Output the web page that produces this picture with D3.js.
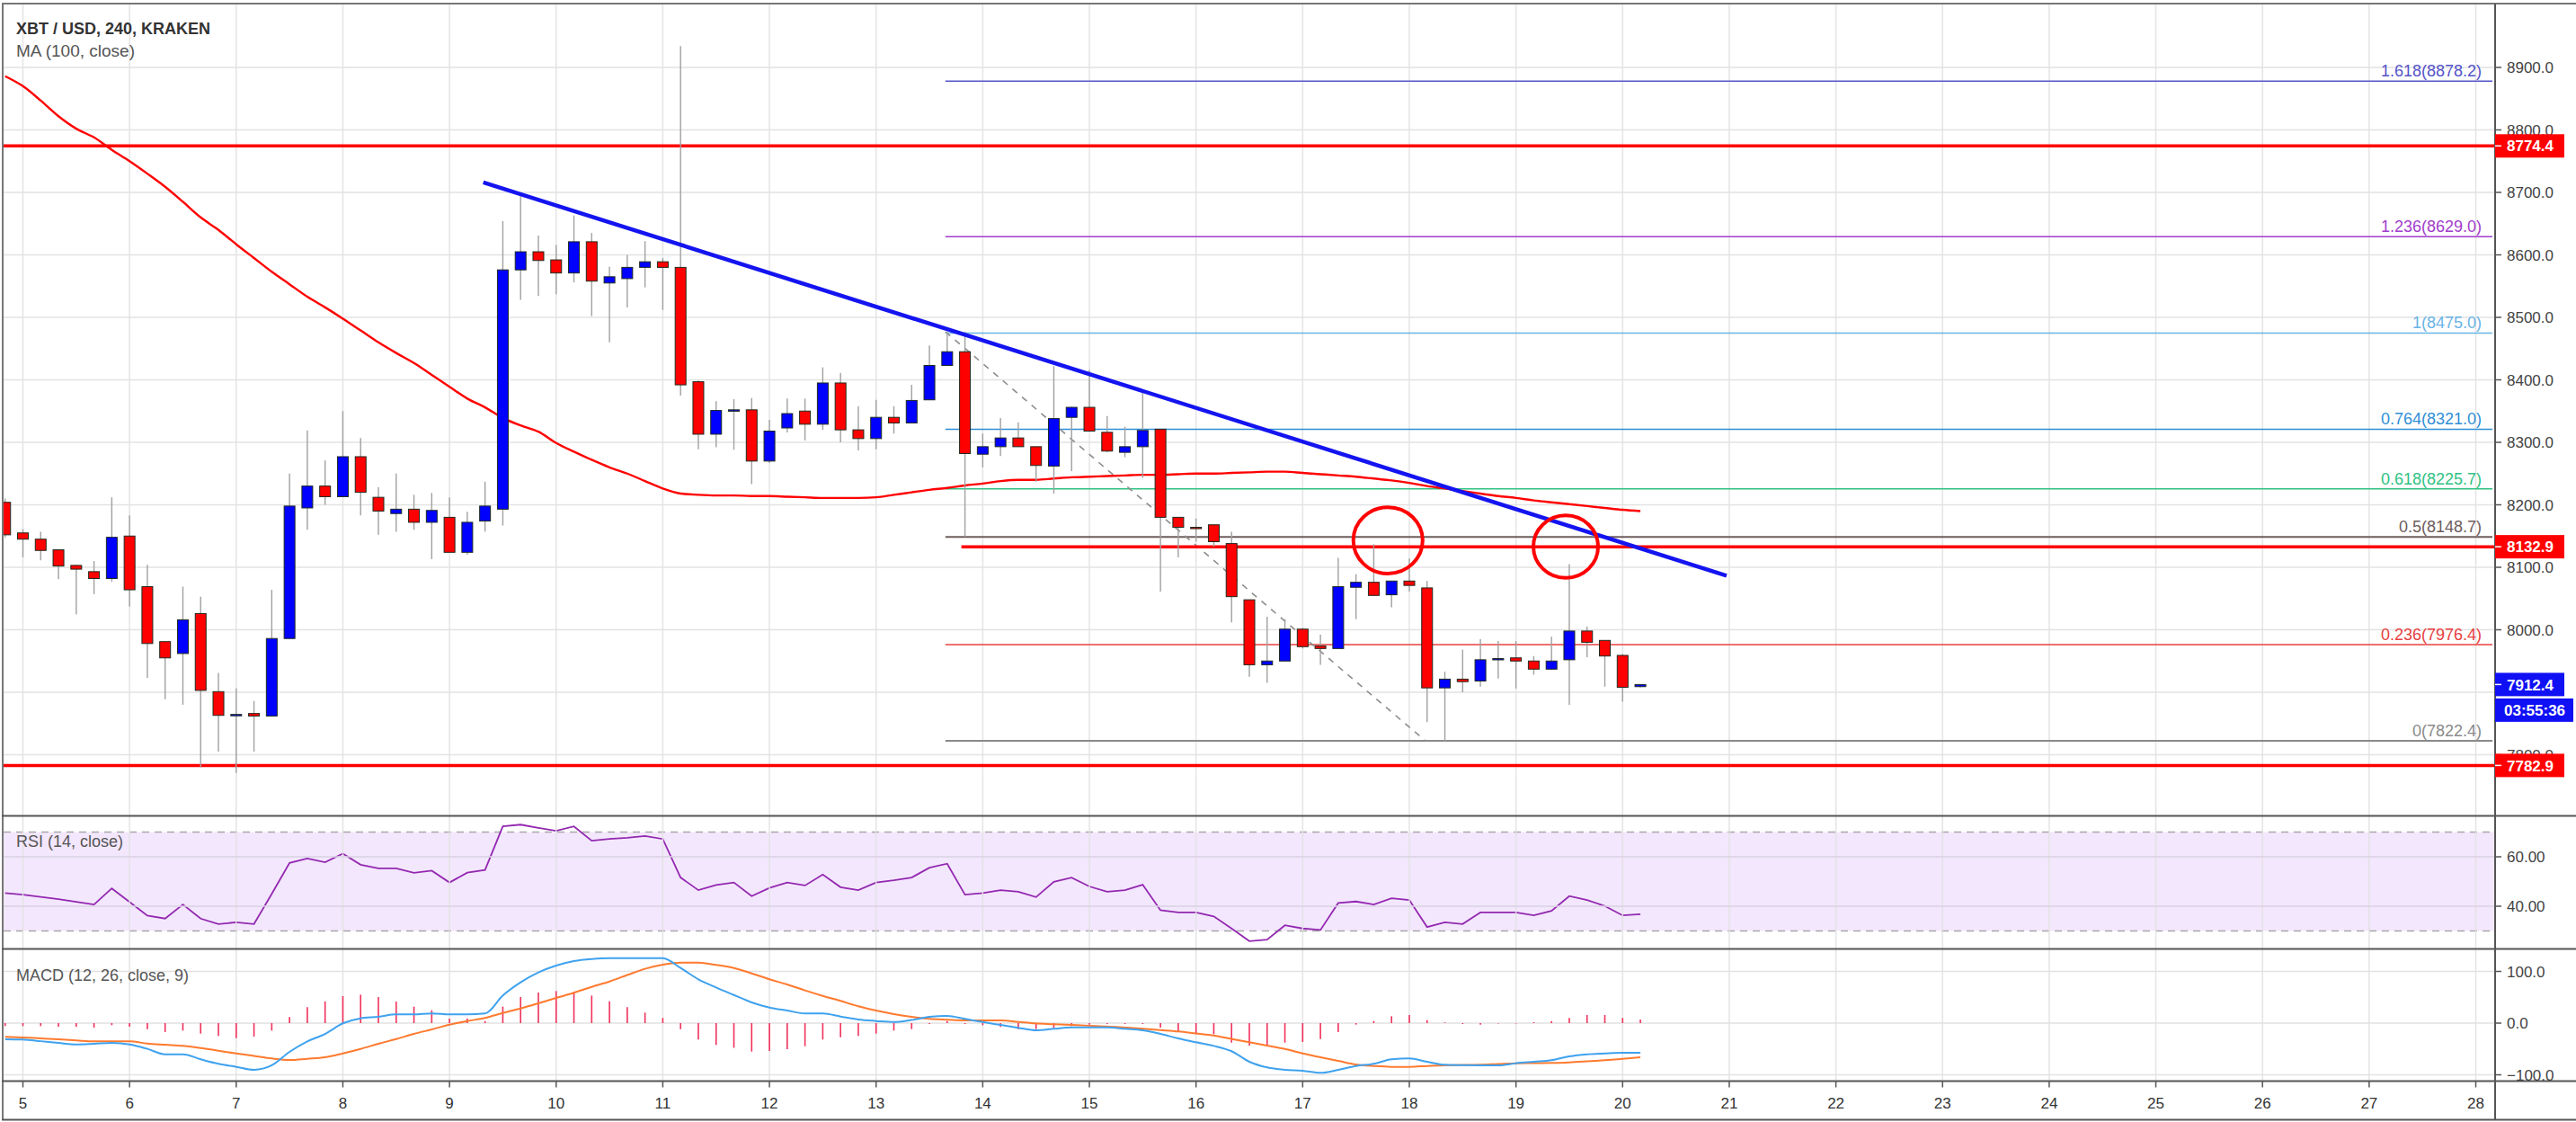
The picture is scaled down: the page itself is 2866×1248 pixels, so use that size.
<!DOCTYPE html>
<html><head><meta charset="utf-8">
<script src="https://cdn.jsdelivr.net/npm/d3@7"></script>
<style>html,body{margin:0;padding:0;background:#fff;}svg{display:block;font-family:"Liberation Sans",Arial,sans-serif;}</style>
</head><body><svg id="c" width="2866" height="1248"></svg>
<script>
// ---------------- DATA ----------------
const title = "XBT / USD, 240, KRAKEN";
const maTitle = "MA (100, close)";
const rsiTitle = "RSI (14, close)";
const macdTitle = "MACD (12, 26, close, 9)";
const barHours = 4;             // 240-minute candles
const firstBar = -1;            // bar index relative to day 5 00:00
const dayLabels = [5,6,7,8,9,10,11,12,13,14,15,16,17,18,19,20,21,22,23,24,25,26,27,28];
const priceTicks = [7800,7900,8000,8100,8200,8300,8400,8500,8600,8700,8800,8900];
const rsiTicks = [40, 60];
const rsiBand = [30, 70];
const macdTicks = [-100, 0, 100];

const opens = [8204,8155,8145,8128,8103,8093,8082,8150,8069,7981,
 7962,8026,7901,7864,7866,7862,7986,8195,8230,8213,
 8277,8212,8186,8193,8172,8180,8124,8174,8193,8576,
 8605,8592,8571,8621,8555,8562,8580,8589,8580,8397,
 8313,8351,8352,8270,8323,8350,8329,8395,8320,8306,
 8340,8331,8368,8423,8445,8281,8293,8307,8293,8262,
 8340,8356,8316,8284,8293,8321,8180,8164,8168,8138,
 8048,7944,7950,8001,7974,7970,8068,8076,8056,8078,
 8067,7907,7921,7918,7952,7955,7950,7937,7952,7998,
 7983,7959,7909];
const highs = [8210,8161,8157,8128,8104,8110,8212,8183,8104,7981,
 8069,8053,7931,7906,7886,8064,8250,8319,8271,8350,
 8307,8228,8250,8216,8219,8212,8189,8237,8654,8694,
 8631,8616,8663,8635,8581,8600,8622,8595,8934,8399,
 8366,8369,8371,8336,8370,8370,8420,8411,8358,8368,
 8358,8392,8455,8477,8477,8314,8339,8332,8293,8422,
 8357,8416,8342,8325,8380,8321,8180,8178,8168,8157,
 8048,8021,8017,8003,7992,8115,8089,8137,8078,8114,
 8078,7933,7968,7985,7982,7982,7958,7989,8105,8005,
 7983,7961,7913];
const lows = [8148,8116,8111,8081,8025,8057,8077,8037,7923,7889,
 7880,7780,7805,7771,7805,7862,7986,8160,8200,8213,
 8183,8152,8157,8160,8113,8124,8120,8157,8167,8528,
 8534,8537,8556,8502,8460,8516,8548,8512,8375,8289,
 8292,8288,8233,8267,8316,8303,8320,8300,8287,8289,
 8314,8331,8368,8422,8149,8260,8278,8293,8237,8218,
 8254,8318,8284,8276,8243,8061,8116,8141,8133,8012,
 7925,7915,7950,7970,7944,7970,8017,8054,8036,8061,
 7852,7822,7900,7909,7922,7906,7928,7936,7880,7956,
 7909,7885,7908];
const closes = [8152,8145,8127,8102,8097,8082,8148,8064,7978,7955,
 8016,7903,7863,7864.5,7862,7986,8198,8230,8213,8277,
 8220,8190,8193,8172,8191,8124,8172,8198,8576,8605,
 8591,8571,8621,8558,8565,8580,8589,8580,8392,8313,
 8351,8352,8270,8318,8346,8329,8395,8320,8306,8340,
 8331,8367,8423,8445,8282,8293,8307,8293,8263,8338,
 8356,8318,8286,8293,8319,8180,8164,8163,8141,8053,
 7944,7950,8001,7973,7970,8069,8076,8055,8078,8071,
 7907,7921,7917,7952,7954,7950,7937,7950,7998,7980,
 7958,7908,7912.4];
const ma100 = [8886,8870,8847,8822,8802,8788,8768,8750,8730,8709,
 8685,8660,8640,8617,8595,8573,8553,8533,8516,8498,
 8479,8460,8443,8427,8408,8389,8370,8356,8339,8327,
 8317,8299,8285,8272,8260,8250,8238,8226,8218,8216,
 8215,8215,8214,8214,8213,8212,8211,8211,8211,8212,
 8216,8220,8224,8227,8231,8234,8238,8240,8240,8242,
 8244,8245,8246,8247,8248,8248,8249,8250,8250,8251,
 8252,8253,8253,8251,8249,8247,8245,8242,8239,8235,
 8230,8226,8222,8218,8214,8211,8207,8204,8201,8198,
 8195,8192,8190];
const rsi = [45.3,44.7,43.8,42.9,41.8,40.7,47.2,41.7,36.2,35.0,
 40.7,35.0,32.8,33.5,32.8,45.0,57.5,59.3,57.8,61.3,
 56.8,55.3,55.3,53.5,54.4,49.6,53.6,54.7,72.3,73.0,
 71.7,70.5,72.3,66.5,67.2,67.7,68.4,67.2,51.6,46.5,
 48.6,49.6,44.1,47.4,49.6,48.4,52.8,47.7,46.5,49.6,
 50.5,51.6,55.6,57.2,44.7,45.3,46.5,45.9,43.7,49.9,
 51.6,48.0,45.9,46.5,48.7,38.4,37.5,37.5,35.9,31.0,
 25.9,26.5,32.3,31.0,30.4,41.3,41.9,40.7,43.2,42.5,
 31.6,33.5,32.8,37.5,37.5,37.5,36.3,38.1,44.1,42.5,
 40.1,36.3,36.8];
const macdLine = [-31.3,-31.9,-35,-38.3,-41.2,-40,-38.3,-41.2,-49.8,-60.3,
 -60.3,-70.1,-78.8,-84.6,-90.4,-81.7,-55.7,-35.4,-20.9,-0.5,
 9.3,12.2,16.8,16.8,18.6,16.8,16.8,18.6,53.3,78.8,
 98,111.3,120,124,125.7,125.7,125.7,125.7,106.6,84.7,
 69,54.4,40,30.1,24.3,18.6,18.6,12.7,7,4.1,
 2,6,12,13.9,8.1,2,-3.5,-9,-13.9,-11,
 -8.1,-8.1,-8.1,-11,-13.9,-20.9,-29.6,-37.1,-44.1,-54.4,
 -74.8,-85.8,-90.4,-92.2,-96.2,-90.4,-83,-78.8,-70.1,-68.4,
 -74.8,-80.5,-81.5,-81.7,-81.7,-77.7,-74.8,-71.8,-64.3,-60.3,
 -58.6,-57.4,-57.4];
const signalLine = [-26.7,-27.8,-29.5,-31.3,-33.4,-35.4,-35.4,-35.4,-39.4,-41.8,
 -44.1,-48.1,-53.4,-58.6,-63.5,-68.4,-71.3,-69,-66.1,-58.6,
 -49.9,-40,-30.8,-20.9,-12.2,-3,4,10,19.7,28.4,
 38.3,48.7,58.6,70.1,80.5,93,105,113,117,117,
 112.5,106.6,96.2,84.7,74.8,63.2,52.7,43,32.5,24.3,
 17.5,12,8.1,6.5,5.2,5.2,5.2,2.3,-0.6,-2,
 -3.5,-5,-6.4,-8.6,-10.9,-13.5,-16.2,-20,-23.8,-30.5,
 -37.1,-43.5,-49.9,-58.6,-66.1,-73,-80,-83,-84.6,-84.6,
 -83,-81.7,-81,-80.5,-79,-77.7,-77.4,-77.1,-76,-74,
 -71.8,-69,-66.1];
const histogram = [-5.8,-5.8,-5.8,-7,-7,-8.7,-4,-7,-11.6,-17.4,
 -14.5,-20.3,-24.9,-29,-26.1,-14.5,11.6,30.7,42,52.2,
 55,50.4,41.7,31.9,24.9,8.7,8.7,4,31.9,50.4,
 59.1,62,60.9,53.3,42.3,30.7,20.3,9.9,-11.6,-31.9,
 -42.3,-47.8,-55,-53.9,-50.4,-44.6,-31.9,-27.2,-24.9,-20.3,
 -14.5,-11.6,-1.7,4.1,-1.7,-4.1,-7.5,-11.6,-11.6,-9.9,
 -5.8,-2.9,-1.7,-1.7,-1.7,-8.7,-15.7,-21.4,-21.4,-37.7,
 -43.5,-44.6,-37.7,-36.5,-30.7,-17.4,-2.9,4.1,13.3,15.7,
 5.8,1.2,-1.7,-2.9,0,0,1.7,4.1,9.9,15.7,
 15.7,9.9,7];

// Fibonacci extension levels
const fibRatios = ["1.618","1.236","1","0.764","0.618","0.5","0.236","0"];
const fibPrices = [8878.2, 8629.0, 8475.0, 8321.0, 8225.7, 8148.7, 7976.4, 7822.4];
const fibColors = ["#5454c8","#a23ccc","#6ab4e6","#2f8fd6","#2fc283","#6e5c5c","#e84040","#8a8a8a"];
const fibStartBar = 51.9;
const fibAnchor = {k0: 51.9, p0: 8477, k1: 78.9, p1: 7822.4};
// horizontal support / resistance levels
const levelPrices = [8774.4, 8132.9, 7782.9];
const levelStartBars = [null, 52.8, null];
// descending trend line
const trendLine = {k0: 25.9, p0: 8716, k1: 95.85, p1: 8086.5};
// annotated circles (center bar, center price, radius in bars, radius in price)
const circleBars = [76.8, 86.8];
const circlePrices = [8143, 8133];
const circleRadBars = [1.95, 1.82];
const circleRadPrices = [53, 50];
const lastPrice = 7912.4;
const countdown = "03:55:36";

// ---------------- LAYOUT ----------------
const W = 2866, H = 1248;
const L = 4, AX = 2776;
const P = {top: 5, bottom: 907};
const R = {top: 909, bottom: 1054};
const M = {top: 1057, bottom: 1201};
const TA = 1202.5;

const svg = d3.select("#c");
svg.append("rect").attr("width", W).attr("height", H).attr("fill", "#fff");

const xH = d3.scaleLinear().domain([0, (dayLabels[dayLabels.length-1]-dayLabels[0])*24]).range([25.5, 2754.5]);
const xk = k => xH(k * barHours);
const xd = d => xH((d - dayLabels[0]) * 24);
const y = d3.scaleLinear().domain([7800, 8900]).range([839.5, 75]);
const yR = d3.scaleLinear().domain([40, 60]).range([1008, 953]);
const yM = d3.scaleLinear().domain([-100, 100]).range([1195.5, 1080.5]);

const defs = svg.append("defs");
function clip(id, t, b) {
  defs.append("clipPath").attr("id", id).append("rect").attr("x", L).attr("y", t).attr("width", AX - L).attr("height", b - t);
}
clip("cp", P.top, P.bottom); clip("cr", R.top, R.bottom); clip("cm", M.top, M.bottom);

const gridC = "#e2e2e2";
const gR = svg.append("g").attr("clip-path", "url(#cr)");
gR.append("rect").attr("x", L).attr("width", AX - L)
  .attr("y", yR(rsiBand[1])).attr("height", yR(rsiBand[0]) - yR(rsiBand[1]))
  .attr("fill", "#f3e7fd");

// grid
const gGrid = svg.append("g");
gGrid.selectAll("line.v").data(dayLabels).join("line")
  .attr("x1", d => xd(d)).attr("x2", d => xd(d)).attr("y1", P.top).attr("y2", M.bottom)
  .attr("stroke", gridC).attr("stroke-width", 1.5).attr("opacity", 0.9);
gGrid.selectAll("line.hp").data(priceTicks).join("line").attr("class","hp")
  .attr("x1", L).attr("x2", AX).attr("y1", d => y(d)).attr("y2", d => y(d))
  .attr("stroke", gridC).attr("stroke-width", 1.5);
gGrid.selectAll("line.hr").data(rsiTicks).join("line").attr("class","hr")
  .attr("x1", L).attr("x2", AX).attr("y1", d => yR(d)).attr("y2", d => yR(d))
  .attr("stroke", "#d9d2e2").attr("stroke-width", 1.5);
gGrid.selectAll("line.hm").data(macdTicks).join("line").attr("class","hm")
  .attr("x1", L).attr("x2", AX).attr("y1", d => yM(d)).attr("y2", d => yM(d))
  .attr("stroke", gridC).attr("stroke-width", 1.5);

// ---------------- PRICE PANEL ----------------
const gP = svg.append("g").attr("clip-path", "url(#cp)");

fibPrices.forEach((p, i) => {
  gP.append("line").attr("x1", xk(fibStartBar)).attr("x2", AX - 3)
    .attr("y1", y(p)).attr("y2", y(p)).attr("stroke", fibColors[i])
    .attr("stroke-width", (i === 5 || i === 7) ? 2 : 1.5);
  gP.append("text").attr("x", 2761).attr("y", y(p) - 5).attr("text-anchor", "end")
    .attr("font-size", 18).attr("fill", fibColors[i]).text(fibRatios[i] + "(" + p.toFixed(1) + ")");
});
gP.append("line").attr("x1", xk(fibAnchor.k0)).attr("y1", y(fibAnchor.p0))
  .attr("x2", xk(fibAnchor.k1)).attr("y2", y(fibAnchor.p1))
  .attr("stroke", "#8d8d8d").attr("stroke-width", 1.6).attr("stroke-dasharray", "7,7");

levelPrices.forEach((p, i) => {
  gP.append("line").attr("x1", levelStartBars[i] == null ? L : xk(levelStartBars[i])).attr("x2", AX)
    .attr("y1", y(p)).attr("y2", y(p)).attr("stroke", "#ff0000").attr("stroke-width", 3.5);
});

const maLine = d3.line().x((d, i) => xk(firstBar + i)).y(d => y(d)).curve(d3.curveMonotoneX);
gP.append("path").datum(ma100).attr("d", maLine).attr("fill", "none")
  .attr("stroke", "#ff0000").attr("stroke-width", 2.4);

const bars = opens.map((o, i) => ({k: firstBar + i, o, h: highs[i], l: lows[i], c: closes[i]}));
const bw = 12;
const gC = gP.append("g");
gC.selectAll("line.w").data(bars).join("line").attr("class", "w")
  .attr("x1", d => xk(d.k)).attr("x2", d => xk(d.k))
  .attr("y1", d => y(d.h)).attr("y2", d => y(d.l))
  .attr("stroke", "#a0a0a0").attr("stroke-width", 1.4);
gC.selectAll("rect.b").data(bars).join("rect").attr("class", "b")
  .attr("x", d => xk(d.k) - bw / 2).attr("width", bw)
  .attr("y", d => y(Math.max(d.o, d.c)))
  .attr("height", d => Math.max(1.5, Math.abs(y(d.o) - y(d.c))))
  .attr("fill", d => d.c >= d.o ? "#0000ff" : "#ff0000")
  .attr("stroke", "#1f2a1f").attr("stroke-width", 1);

gP.append("line").attr("x1", xk(trendLine.k0)).attr("y1", y(trendLine.p0))
  .attr("x2", xk(trendLine.k1)).attr("y2", y(trendLine.p1))
  .attr("stroke", "#1414f0").attr("stroke-width", 4.5);

circleBars.forEach((k, i) => {
  const cx = xk(k), cy = y(circlePrices[i]);
  gP.append("ellipse").attr("cx", cx).attr("cy", cy)
    .attr("rx", xk(k + circleRadBars[i]) - cx)
    .attr("ry", y(circlePrices[i] - circleRadPrices[i]) - cy)
    .attr("fill", "none").attr("stroke", "#ff0000").attr("stroke-width", 4);
});

svg.append("text").attr("x", 18).attr("y", 38).attr("font-size", 18).attr("font-weight", "bold")
  .attr("fill", "#333").text(title);
svg.append("text").attr("x", 18).attr("y", 63).attr("font-size", 19).attr("fill", "#555").text(maTitle);

// ---------------- RSI PANEL ----------------
rsiBand.forEach(v => {
  gR.append("line").attr("x1", L).attr("x2", AX).attr("y1", yR(v)).attr("y2", yR(v))
    .attr("stroke", "#a8a8a8").attr("stroke-width", 1.5).attr("stroke-dasharray", "8,6");
});
const rLine = d3.line().x((d, i) => xk(firstBar + i)).y(d => yR(d));
gR.append("path").datum(rsi).attr("d", rLine).attr("fill", "none")
  .attr("stroke", "#9328b0").attr("stroke-width", 1.8);
svg.append("text").attr("x", 18).attr("y", 942).attr("font-size", 18).attr("fill", "#555").text(rsiTitle);

// ---------------- MACD PANEL ----------------
const gM = svg.append("g").attr("clip-path", "url(#cm)");
gM.selectAll("line.h").data(histogram).join("line").attr("class", "h")
  .attr("x1", (d, i) => xk(firstBar + i)).attr("x2", (d, i) => xk(firstBar + i))
  .attr("y1", yM(0)).attr("y2", d => yM(d) + (d === 0 ? 0.5 : 0))
  .attr("stroke", "#f0305a").attr("stroke-width", 1.6);
const mLine = d3.line().x((d, i) => xk(firstBar + i)).y(d => yM(d)).curve(d3.curveMonotoneX);
gM.append("path").datum(signalLine).attr("d", mLine).attr("fill", "none")
  .attr("stroke", "#ff7a2f").attr("stroke-width", 2);
gM.append("path").datum(macdLine).attr("d", mLine).attr("fill", "none")
  .attr("stroke", "#3fa2ee").attr("stroke-width", 2);
svg.append("text").attr("x", 18).attr("y", 1091).attr("font-size", 18).attr("fill", "#555").text(macdTitle);

// ---------------- FRAME & AXES ----------------
const frameC = "#555";
svg.append("line").attr("x1", 2).attr("x2", W).attr("y1", 4).attr("y2", 4).attr("stroke", "#777").attr("stroke-width", 2);
svg.append("line").attr("x1", 3).attr("x2", 3).attr("y1", 4).attr("y2", 1246).attr("stroke", "#777").attr("stroke-width", 2);
[907.5, 1055.5, TA, 1245.5].forEach(v => {
  svg.append("line").attr("x1", 2).attr("x2", W).attr("y1", v).attr("y2", v).attr("stroke", frameC).attr("stroke-width", 2);
});
svg.append("line").attr("x1", AX).attr("x2", AX).attr("y1", 4).attr("y2", 1246).attr("stroke", frameC).attr("stroke-width", 2);

const gT = svg.append("g");
gT.selectAll("line").data(dayLabels).join("line")
  .attr("x1", d => xd(d)).attr("x2", d => xd(d)).attr("y1", TA).attr("y2", TA + 7)
  .attr("stroke", frameC).attr("stroke-width", 1.5);
gT.selectAll("text").data(dayLabels).join("text")
  .attr("x", d => xd(d)).attr("y", 1233).attr("text-anchor", "middle")
  .attr("font-size", 17).attr("fill", "#333").text(d => d);

// right-axis labels (price labels hidden under a price tag are skipped, as in the reference)
const tagPrices = levelPrices.concat([lastPrice]);
function axisLabels(vals, sc, fmt, hideNear) {
  const g = svg.append("g");
  const shown = vals.filter(v => !hideNear || !hideNear.some(t => Math.abs(sc(t) - sc(v)) < 11));
  g.selectAll("line").data(vals).join("line")
    .attr("x1", AX).attr("x2", AX + 7).attr("y1", d => sc(d)).attr("y2", d => sc(d))
    .attr("stroke", frameC).attr("stroke-width", 1.5);
  g.selectAll("text").data(shown).join("text")
    .attr("x", 2789).attr("y", d => sc(d)).attr("dy", "0.36em")
    .attr("font-size", 17).attr("fill", "#444").text(fmt);
}
axisLabels(priceTicks, y, d => d.toFixed(1), tagPrices);
axisLabels(rsiTicks, yR, d => d.toFixed(2));
axisLabels(macdTicks, yM, d => (d < 0 ? "\u2212" + Math.abs(d).toFixed(1) : d.toFixed(1)));

function tag(p, text, color, w) {
  const cy = y(p);
  svg.append("rect").attr("x", AX).attr("y", cy - 13).attr("width", w).attr("height", 26).attr("fill", color);
  svg.append("line").attr("x1", AX).attr("x2", AX + 7).attr("y1", cy).attr("y2", cy).attr("stroke", "#fff").attr("stroke-width", 1.5);
  svg.append("text").attr("x", 2789).attr("y", cy).attr("dy", "0.36em").attr("font-size", 17)
    .attr("font-weight", "bold").attr("fill", "#fff").text(text);
}
levelPrices.forEach(p => tag(p, p.toFixed(1), "#ff0000", 77));
tag(lastPrice, lastPrice.toFixed(1), "#1010f5", 77);
svg.append("rect").attr("x", AX).attr("y", y(lastPrice) + 15.5).attr("width", 87).attr("height", 26).attr("fill", "#1010f5");
svg.append("text").attr("x", 2786).attr("y", y(lastPrice) + 28.5).attr("dy", "0.36em").attr("font-size", 17)
  .attr("font-weight", "bold").attr("fill", "#fff").text(countdown);
</script></body></html>
